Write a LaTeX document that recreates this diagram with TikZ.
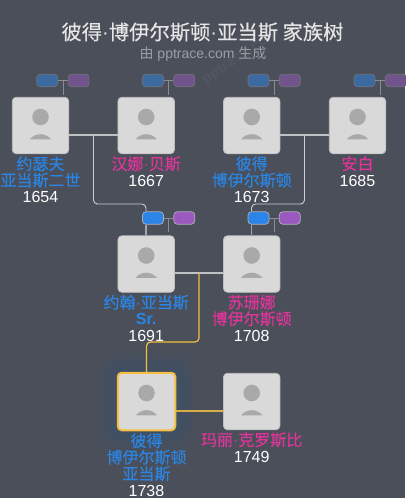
\documentclass[tikz,border=0pt]{standalone}
\usepackage{fontspec}
\setmainfont{Liberation Sans}
\newfontfamily\cjk{Noto Sans CJK SC}
\newfontfamily\cjkname[FakeBold=0.3]{Noto Sans CJK SC}
\usetikzlibrary{positioning,calc}
\definecolor{PageBg}{HTML}{4A4F59}
\definecolor{CardFill}{HTML}{D9D9D9}
\definecolor{CardEdge}{HTML}{BDBEC0}
\definecolor{AvatarGray}{HTML}{A9A9A9}
\definecolor{NameBlue}{HTML}{2B85E4}
\definecolor{NamePink}{HTML}{E0359A}
\definecolor{TreeGold}{HTML}{F5BE41}
\definecolor{PillBlue}{HTML}{2B84E8}
\definecolor{PillPurple}{HTML}{9B59C0}
\newcommand{\bn}[1]{{\cjkname\color{NameBlue}#1}}
\newcommand{\pn}[1]{{\cjkname\color{NamePink}#1}}
\newcommand{\md}{{\rmfamily·}}
\tikzset{
    % Person card
    cardnode/.style={
        draw=CardEdge,
        fill=CardFill,
        line width=0.8pt,
        rounded corners=4pt,
        minimum size=56.5pt,
        inner sep=0pt
    },
    % Selected person
    focusnode/.style={
        cardnode,
        draw=TreeGold,
        line width=2pt,
        minimum size=57.5pt
    },
    % Soft halo behind the selected person
    halonode/.style={
        fill=NameBlue,
        opacity=0.012,
        inner sep=0pt
    },
    % Name and year below a card
    captionnode/.style={
        anchor=north,
        align=center,
        inner sep=0pt,
        yshift=-2pt,
        text=white,
        font=\fontsize{16}{16.4}\selectfont
    },
    % Small parent buttons
    pillnode/.style={
        draw=white!55!PageBg,
        line width=0.7pt,
        rounded corners=3.5pt,
        minimum width=21pt,
        minimum height=12.5pt,
        inner sep=0pt
    },
    dadpill/.style={pillnode, fill=PillBlue},
    mompill/.style={pillnode, fill=PillPurple},
    dimdad/.style={pillnode, fill=PillBlue!50!PageBg, draw=white!20!PageBg},
    dimmom/.style={pillnode, fill=PillPurple!50!PageBg, draw=white!20!PageBg},
    % Connectors
    stemline/.style={draw=white!35!PageBg, line width=0.8pt},
    linkline/.style={draw=white!72!PageBg, line width=0.9pt, rounded corners=4pt},
    coupleline/.style={draw=white!65!PageBg, line width=1.1pt},
    goldline/.style={draw=TreeGold, line width=1.2pt, rounded corners=4pt}
}
\begin{document}
\begin{tikzpicture}[x=1pt,y=-1pt]
    \path[use as bounding box, fill=PageBg] (0,0) rectangle (405,498);

    % title
    \node[rotate=34, text=white!4!PageBg, font=\fontsize{15}{18}\selectfont\bfseries] (mark) at (241,57) {pptrace.com};
    \node[text=white!90!black, font=\fontsize{20.3}{24}\selectfont\cjkname] (title) at (202.5,32) {彼得\md 博伊尔斯顿\md 亚当斯 家族树};
    \node[text=white!45!PageBg, font=\fontsize{14}{17}\selectfont] (sub) at (203,54) {{\cjk 由} pptrace.com {\cjk 生成}};

    % halo
    \foreach \r in {2,4,...,22}
        \node[halonode, rounded corners=4pt+\r pt, minimum size=58pt+2*\r pt] (halo\r) at (146.5,401.5) {};

    % persons
    \node[cardnode] (jf) at (40.5,125.5) {};
    \node[cardnode] (hn) at (146.2,125.5) {};
    \node[cardnode] (pb) at (251.7,125.5) {};
    \node[cardnode] (ab) at (357.5,125.5) {};
    \node[cardnode] (ja) at (146.2,264) {};
    \node[cardnode] (sb) at (251.7,264) {};
    \node[focusnode] (pa) at (146.5,401.5) {};
    \node[cardnode] (mc) at (251.7,401.5) {};

    % avatars
    \foreach \p in {jf,hn,pb,ab,ja,sb,pa,mc} {
        \fill[AvatarGray] ($(\p)+(0,-8.5)$) circle (8.3);
        \fill[AvatarGray] ($(\p)+(-10.7,13.8)$) .. controls ($(\p)+(-5,7)$) and ($(\p)+(5,7)$) .. ($(\p)+(10.7,13.8)$) -- cycle;
    }

    % captions
    \node[captionnode] (jft) at (jf.south) {\bn{约瑟夫}\\\bn{亚当斯二世}\\1654};
    \node[captionnode] (hnt) at (hn.south) {\pn{汉娜\md 贝斯}\\1667};
    \node[captionnode] (pbt) at (pb.south) {\bn{彼得}\\\bn{博伊尔斯顿}\\1673};
    \node[captionnode] (abt) at (ab.south) {\pn{安白}\\1685};
    \node[captionnode] (jat) at (ja.south) {\bn{约翰\md 亚当斯}\\{\bfseries\color{NameBlue}Sr.}\\1691};
    \node[captionnode] (sbt) at (sb.south) {\pn{苏珊娜}\\\pn{博伊尔斯顿}\\1708};
    \node[captionnode] (pat) at (pa.south) {\bn{彼得}\\\bn{博伊尔斯顿}\\\bn{亚当斯}\\1738};
    \node[captionnode] (mct) at (mc.south) {\pn{玛丽\md 克罗斯比}\\1749};

    % parent buttons, top row
    \foreach \x/\n in {47.3/a,153/b,258.5/c,364.5/d} {
        \node[dimdad] (dad\n) at (\x,80.5) {};
        \node[dimmom, right=9.6pt of dad\n] (mom\n) {};
        \coordinate (top\n) at ($(dad\n.east)!0.5!(mom\n.west)$);
        \coordinate (end\n) at ($(top\n)+(0,14)$);
        \draw[stemline] (dad\n) -- (mom\n);
        \draw[stemline] (top\n) -- (end\n);
    }

    % parent buttons, middle row
    \foreach \x/\n/\p in {153/e/ja,258.5/f/sb} {
        \node[dadpill] (dad\n) at (\x,218) {};
        \node[mompill, right=9.6pt of dad\n] (mom\n) {};
        \coordinate (top\n) at ($(dad\n.east)!0.5!(mom\n.west)$);
        \coordinate (end\n) at ($(top\n)+(0,14)$);
        \coordinate (pin\n) at ([xshift=-7pt]dad\n.south);
        \draw[stemline] (dad\n) -- (mom\n);
        \draw[stemline] (top\n) -- (end\n);
        \draw[coupleline, draw=white!50!PageBg] (pin\n) -- (\p.north -| pin\n);
    }

    % couples
    \draw[coupleline] ([yshift=-9.5pt]jf.east) -- ([yshift=-9.5pt]hn.west);
    \draw[coupleline] ([yshift=-9.5pt]pb.east) -- ([yshift=-9.5pt]ab.west);
    \draw[coupleline] ([yshift=-9pt]ja.east) -- ([yshift=-9pt]sb.west);
    \draw[goldline, draw=TreeGold!85!PageBg] ([yshift=-9.5pt]pa.east) -- ([yshift=-9.5pt]mc.west);

    % children
    \coordinate (dropa) at (93.5,135);
    \coordinate (dropb) at (304.5,135);
    \coordinate (dropc) at (199,273);
    \coordinate (benda) at (100,204);
    \coordinate (bendb) at (298,204);
    \coordinate (bendc) at (190,342);
    \draw[linkline] (dropa) |- (benda) -| (pine |- dade.north);
    \draw[linkline] (dropb) |- (bendb) -| (pinf |- dadf.north);
    \draw[goldline] (dropc) |- (bendc) -| (pa.north);
\end{tikzpicture}
\end{document}
